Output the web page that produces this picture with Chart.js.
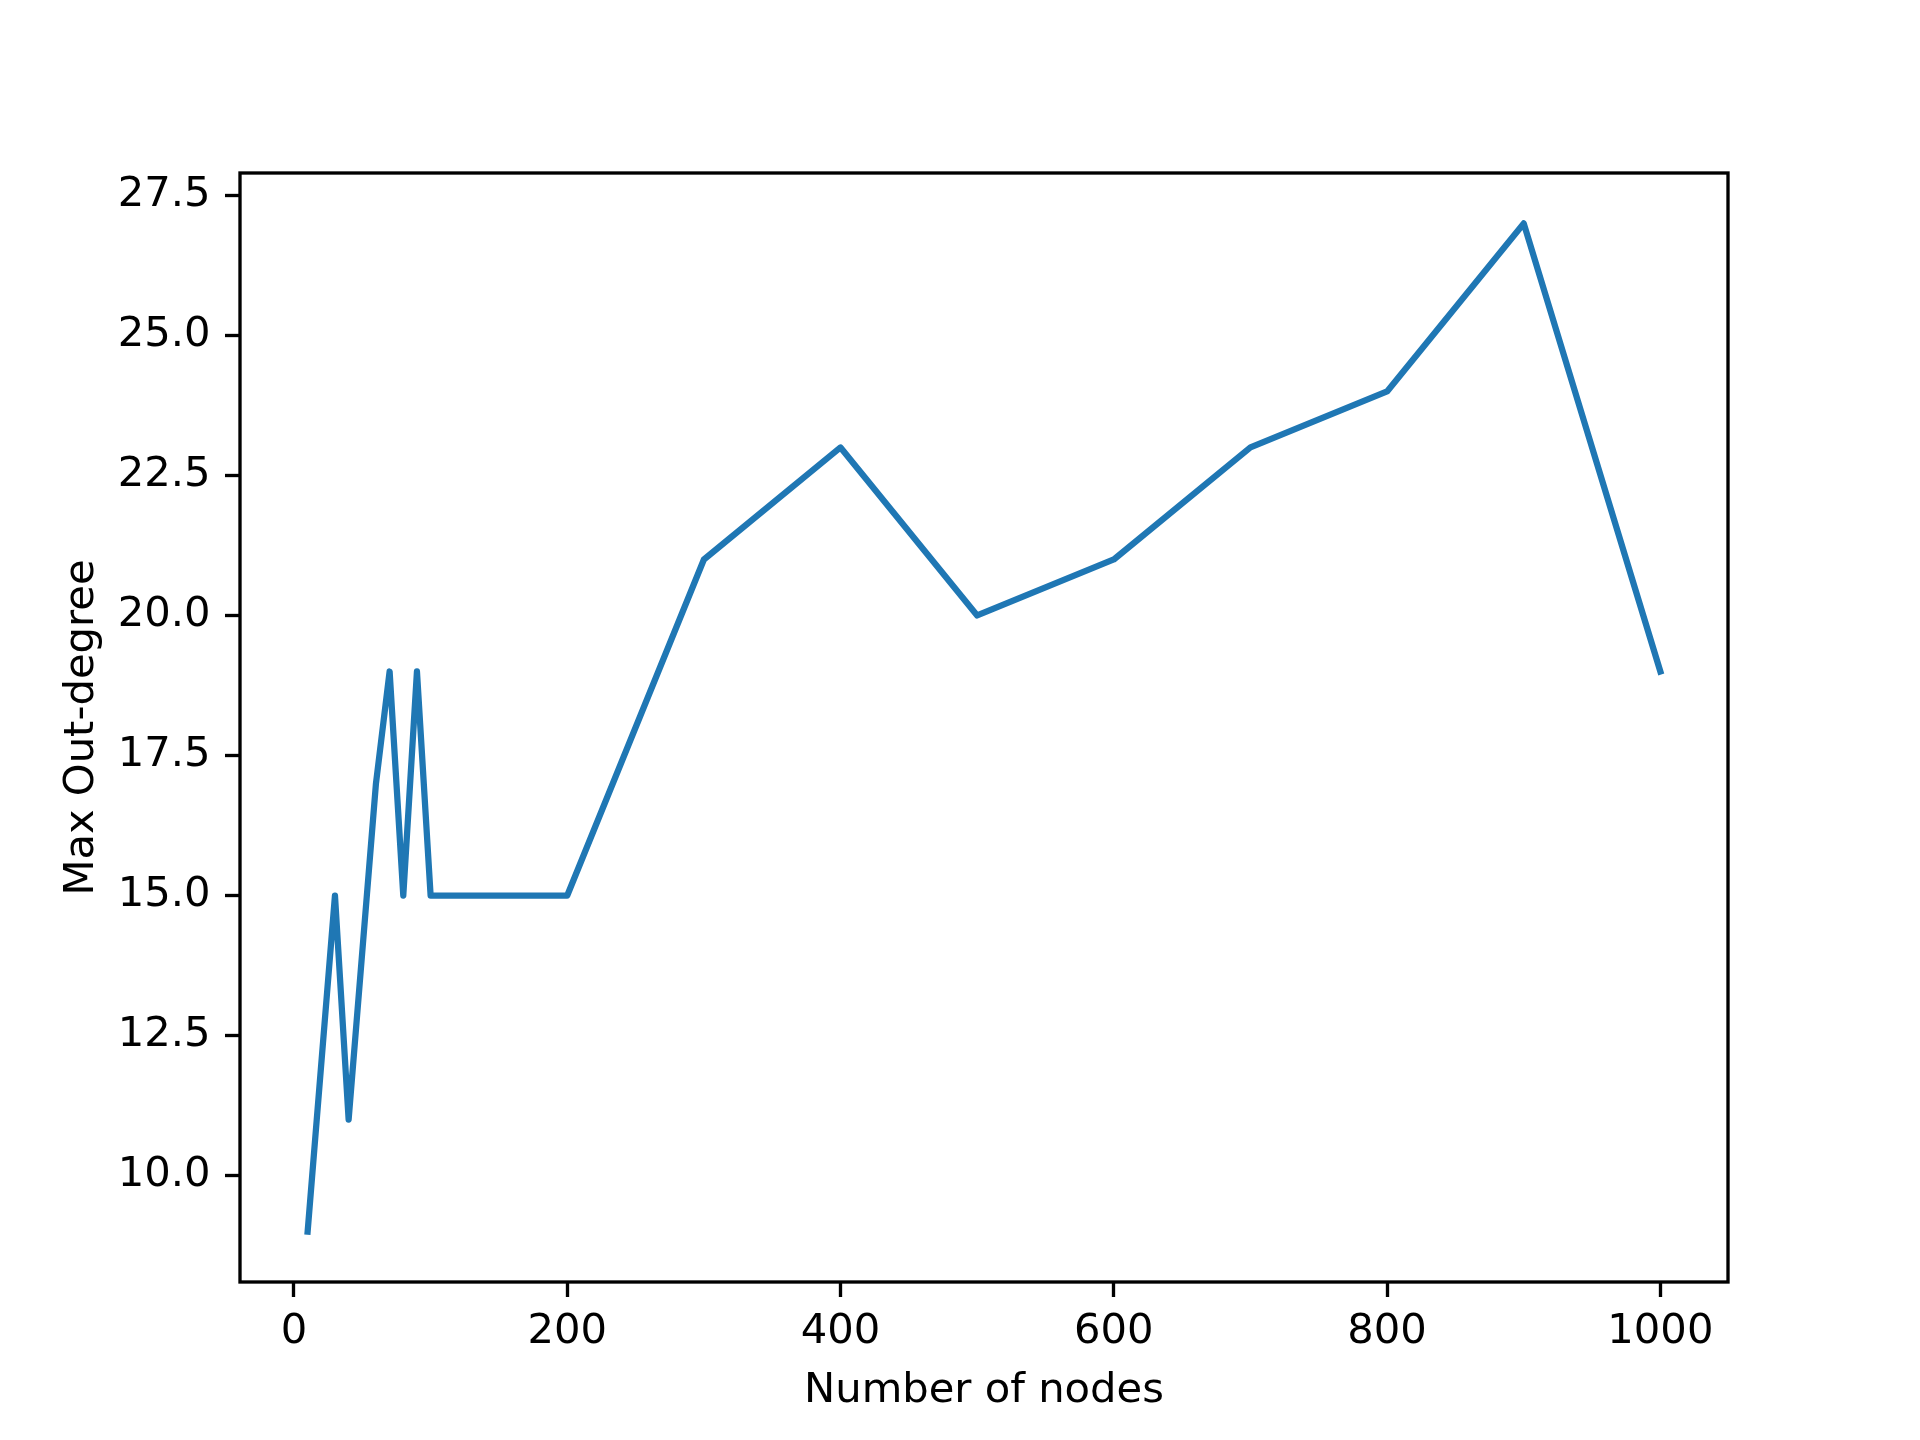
<!DOCTYPE html>
<html>
<head>
<meta charset="utf-8">
<script src="https://cdn.jsdelivr.net/npm/chart.js@4/dist/chart.umd.min.js"></script>
<style>
  body { margin: 0; background: #fff; }
  canvas { display: block; }
</style>
</head>
<body>
<canvas id="chart" width="1920" height="1440"></canvas>
<script>
// данные
const nodes = [10, 30, 40, 60, 70, 80, 90, 100, 200, 300, 400, 500, 600, 700, 800, 900, 1000];
const maxOutDegree = [9, 15, 11, 17, 19, 15, 19, 15, 15, 21, 23, 20, 21, 23, 24, 27, 19];
const xTicks = [0, 200, 400, 600, 800, 1000];
const yTicks = [10, 12.5, 15, 17.5, 20, 22.5, 25, 27.5];

const fontSize = 41.7;
const font = { family: 'DejaVu Sans', size: fontSize };

// рамка вокруг области графика, как в matplotlib
const frame = {
    id: 'frame',
    afterDraw(chart) {
        const { ctx, chartArea: a } = chart;
        ctx.save();
        ctx.strokeStyle = '#000';
        ctx.lineWidth = 3.33;
        ctx.strokeRect(a.left, a.top, a.right - a.left, a.bottom - a.top);
        ctx.restore();
    }
};

const background = {
    id: 'background',
    beforeDraw(chart) {
        const ctx = chart.ctx;
        ctx.save();
        ctx.fillStyle = '#fff';
        ctx.fillRect(0, 0, chart.width, chart.height);
        ctx.restore();
    }
};

new Chart(document.getElementById('chart'), {
    type: 'line',
    data: {
        datasets: [{
            data: nodes.map((n, i) => ({ x: n, y: maxOutDegree[i] })),
            borderColor: '#1f77b4',
            borderWidth: 6.25,
            pointRadius: 0,
            tension: 0,
            borderJoinStyle: 'round',
            borderCapStyle: 'square',
            fill: false
        }]
    },
    options: {
        responsive: false,
        animation: false,
        devicePixelRatio: 1,
        layout: { padding: { left: 57, right: 192, top: 173, bottom: 24 } },
        plugins: { legend: { display: false }, tooltip: { enabled: false } },
        scales: {
            x: {
                type: 'linear',
                min: -39.5,
                max: 1049.5,
                afterBuildTicks: axis => { axis.ticks = xTicks.map(v => ({ value: v })); },
                afterFit: axis => { axis.height = 134; },
                grid: { drawOnChartArea: false, drawTicks: true, tickLength: 15, tickColor: '#000', tickWidth: 3.33 },
                border: { display: false },
                ticks: { color: '#000', font, padding: 10, maxRotation: 0, callback: v => String(v) },
                title: { display: true, text: 'Number of nodes', color: '#000', font, padding: { top: 6, bottom: 0 } }
            },
            y: {
                type: 'linear',
                min: 8.1,
                max: 27.9,
                afterBuildTicks: axis => { axis.ticks = yTicks.map(v => ({ value: v })); },
                afterFit: axis => { axis.width = 183; },
                grid: { drawOnChartArea: false, drawTicks: true, tickLength: 15, tickColor: '#000', tickWidth: 3.33 },
                border: { display: false },
                ticks: { color: '#000', font, padding: 14.5, callback: v => v.toFixed(1) },
                title: { display: true, text: 'Max Out-degree', color: '#000', font, padding: { top: 0, bottom: 10 } }
            }
        }
    },
    plugins: [background, frame]
});
</script>
</body>
</html>
